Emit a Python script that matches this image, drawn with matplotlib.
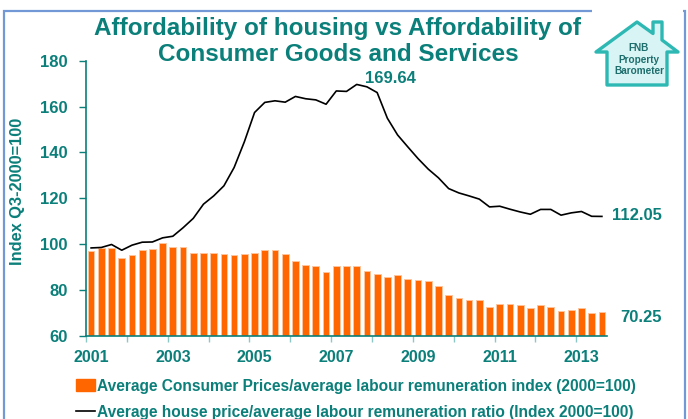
import matplotlib
matplotlib.use("Agg")
import matplotlib.pyplot as plt
from matplotlib.patches import Rectangle, Polygon
from matplotlib.lines import Line2D
import numpy as np

# ---- data ----
quarters = [f"{y}Q{q}" for y in range(2001, 2014) for q in range(1, 5)][:51]
consumer_idx = [97.0, 98.4, 98.2, 93.7, 95.2, 97.5, 97.8, 100.4, 98.5, 98.5,
                95.9, 95.9, 95.9, 95.5, 95.2, 95.6, 95.9, 97.2, 97.2, 95.5,
                92.6, 90.8, 90.2, 87.6, 90.2, 90.5, 90.2, 88.2, 86.8, 85.6,
                86.5, 84.6, 84.3, 84.0, 81.8, 77.6, 76.3, 75.7, 75.4, 72.7,
                73.8, 73.8, 73.5, 71.9, 73.5, 72.7, 70.7, 71.3, 72.3, 69.9,
                70.25]
house_ratio = [98.3, 98.5, 99.8, 97.3, 99.5, 100.8, 100.9, 102.7, 103.4, 107.1,
               111.2, 117.4, 121.0, 125.4, 133.4, 144.6, 157.4, 161.8, 162.5, 161.9,
               164.4, 163.4, 162.9, 161.0, 166.8, 166.6, 169.64, 168.6, 166.1, 154.9,
               147.6, 142.4, 137.3, 132.7, 128.9, 124.2, 122.3, 121.0, 119.6, 116.2,
               116.5, 115.2, 114.0, 113.0, 115.1, 115.1, 112.6, 113.6, 114.2, 112.1,
               112.05]
year_labels = ["2001", "2003", "2005", "2007", "2009", "2011", "2013"]
yticks = [60, 80, 100, 120, 140, 160, 180]

title = "Affordability of housing vs Affordability of\nConsumer Goods and Services"
ylabel = "Index Q3-2000=100"
bar_label = "Average Consumer Prices/average labour remuneration index (2000=100)"
line_label = "Average house price/average labour remuneration ratio (Index 2000=100)"
logo_lines = ["FNB", "Property", "Barometer"]

TEAL = "#0B7F7A"
ORANGE = "#FF6600"
W, H = 688, 419

plt.rcParams['font.family'] = ['Liberation Sans', 'DejaVu Sans']

fig = plt.figure(figsize=(W / 100, H / 100), dpi=100)

def fx(px):
    return px / W

def fy(py):
    return 1 - py / H

# frame
fig.patches.append(Rectangle((fx(4), fy(440)), fx(685) - fx(4), fy(11) - fy(440),
                             transform=fig.transFigure, fill=False,
                             edgecolor="#7398D6", linewidth=1.6, zorder=0))

ax = fig.add_axes([fx(86), fy(335.7), fx(607) - fx(86), fy(60.7) - fy(335.7)])
x = np.arange(len(quarters))
ax.bar(x, [v - 60 for v in consumer_idx], bottom=60, width=0.66, color=ORANGE,
       edgecolor="#FFC49A", linewidth=0.7, zorder=2)
ax.plot(x, house_ratio, color="black", linewidth=1.2, zorder=3)

ax.set_xlim(-0.5, len(quarters) - 0.5)
ax.set_ylim(60, 180)
ax.set_yticks(yticks)
ax.set_yticklabels([str(t) for t in yticks])
ax.set_xticks([quarters.index(y + "Q1") for y in year_labels])
ax.set_xticklabels(year_labels)
ax.set_xticks(np.arange(-0.5, 48.6, 4), minor=True)
ax.tick_params(axis='x', which='major', length=0, pad=10, labelsize=11.5,
               labelcolor=TEAL)
ax.tick_params(axis='x', which='minor', length=4, width=1, color="#8CC9C6",
               direction='out')
ax.tick_params(axis='y', length=5, width=1, color=TEAL, labelsize=12,
               labelcolor=TEAL, pad=8)
for lab in ax.get_xticklabels() + ax.get_yticklabels():
    lab.set_fontweight('bold')
for s in ['top', 'right']:
    ax.spines[s].set_visible(False)
for s in ['left', 'bottom']:
    ax.spines[s].set_color(TEAL)
    ax.spines[s].set_linewidth(1.2)

fig.text(fx(18), fy(191), ylabel, rotation=90, color=TEAL, fontsize=11.8,
         fontweight='bold', ha='center', va='center')

# annotations
ipk = int(np.argmax(house_ratio))
ax.annotate(f"{house_ratio[ipk]:.2f}", (ipk, house_ratio[ipk]), xytext=(24, 4.5),
            textcoords='offset points', ha='center', va='center', color=TEAL,
            fontsize=12, fontweight='bold', annotation_clip=False)
ax.annotate(f"{house_ratio[-1]:.2f}", (len(x) - 1, house_ratio[-1]), xytext=(25, 1),
            textcoords='offset points', ha='center', va='center', color=TEAL,
            fontsize=12, fontweight='bold', annotation_clip=False)
ax.annotate(f"{consumer_idx[-1]:.2f}", (len(x) - 1, consumer_idx[-1]), xytext=(28, -3.5),
            textcoords='offset points', ha='center', va='center', color=TEAL,
            fontsize=12, fontweight='bold', annotation_clip=False)

# title
fig.text(fx(338), fy(41.5), title, ha='center', va='center', color=TEAL,
         fontsize=17.5, fontweight='bold', linespacing=1.22)

# legend
handles = [Rectangle((0, 0), 1, 1, facecolor=ORANGE, edgecolor=ORANGE),
           Line2D([0], [0], color='black', linewidth=1.2)]
leg = fig.legend(handles, [bar_label, line_label], loc='upper left',
                 bbox_to_anchor=(fx(62), fy(364.5)), frameon=False,
                 prop={'weight': 'bold', 'size': 11.2},
                 labelcolor=TEAL, handlelength=1.25, handleheight=0.75,
                 handletextpad=0.1, labelspacing=0.72)

# logo (house) with white backing that hides the frame
fig.patches.append(Rectangle((fx(592), fy(95)), fx(683) - fx(592), fy(0) - fy(95),
                             transform=fig.transFigure, facecolor="white",
                             edgecolor="none", zorder=3))
house = [(596, 52), (637, 22), (653, 33.5), (653, 22), (662, 22), (662, 40),
         (678, 52), (667, 52), (667, 85), (607, 85), (607, 52)]
fig.patches.append(Polygon([(fx(a), fy(b)) for a, b in house], closed=True,
                           transform=fig.transFigure, facecolor="#D8F4F4",
                           edgecolor="#2DB8B4", linewidth=2.4, joinstyle='round',
                           zorder=5))
for txt, py in zip(logo_lines, [48, 60, 71]):
    fig.text(fx(639), fy(py), txt, ha='center', va='center', color="#1E6E6E",
             fontsize=7.2, fontweight='bold', zorder=6)

fig.savefig("out.png", dpi=100)
